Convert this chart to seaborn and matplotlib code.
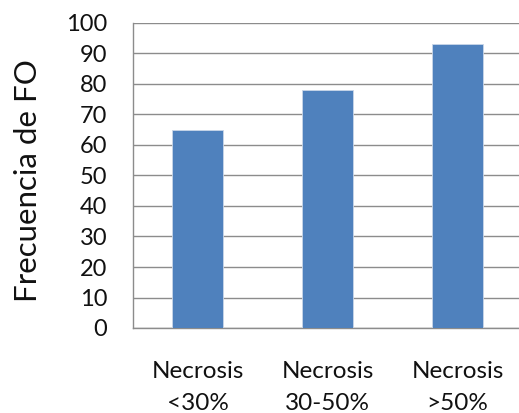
import matplotlib
matplotlib.use("Agg")
import matplotlib.pyplot as plt
import seaborn as sns
import pandas as pd

categories = ["Necrosis\n<30%", "Necrosis\n30-50%", "Necrosis\n>50%"]
values = [65, 78, 93]
yticks = [0, 10, 20, 30, 40, 50, 60, 70, 80, 90, 100]

df = pd.DataFrame({"cat": categories, "val": values})

sns.set_style("white")
plt.rcParams["font.family"] = ["Lato", "DejaVu Sans"]

W, H = 519, 413
fig = plt.figure(figsize=(W / 100, H / 100), dpi=100)
ax = fig.add_axes([132.5 / W, 85 / H, 390 / W, 305 / H])

sns.barplot(data=df, x="cat", y="val", color="#4F81BD", width=0.39,
            saturation=1, ax=ax, zorder=3)
for p in ax.patches:
    p.set_edgecolor("#c9d6e8")
    p.set_linewidth(0.6)

ax.set_ylim(0, 100)
ax.set_xlim(-0.5, 2.5)
ax.set_yticks(yticks)
ax.yaxis.grid(True, color="#8c8c8c", linewidth=1.0, zorder=0)
ax.set_axisbelow(True)

for s in ["top", "right"]:
    ax.spines[s].set_visible(False)
for s in ["left", "bottom"]:
    ax.spines[s].set_color("#8c8c8c")
    ax.spines[s].set_linewidth(1.0)

ax.tick_params(axis="y", which="major", direction="out", length=6,
               width=1.0, color="#8c8c8c", labelsize=17, pad=12,
               labelcolor="#111111")
ax.tick_params(axis="x", length=0, labelsize=17.5, pad=24,
               labelcolor="#111111")
for lab in ax.get_xticklabels():
    lab.set_linespacing(1.62)

ax.set_xlabel("")
ax.set_ylabel("Frecuencia de FO", fontsize=22.5, color="#111111")
ax.yaxis.set_label_coords(-0.232, 0.485)

fig.savefig("out.png", dpi=100)
